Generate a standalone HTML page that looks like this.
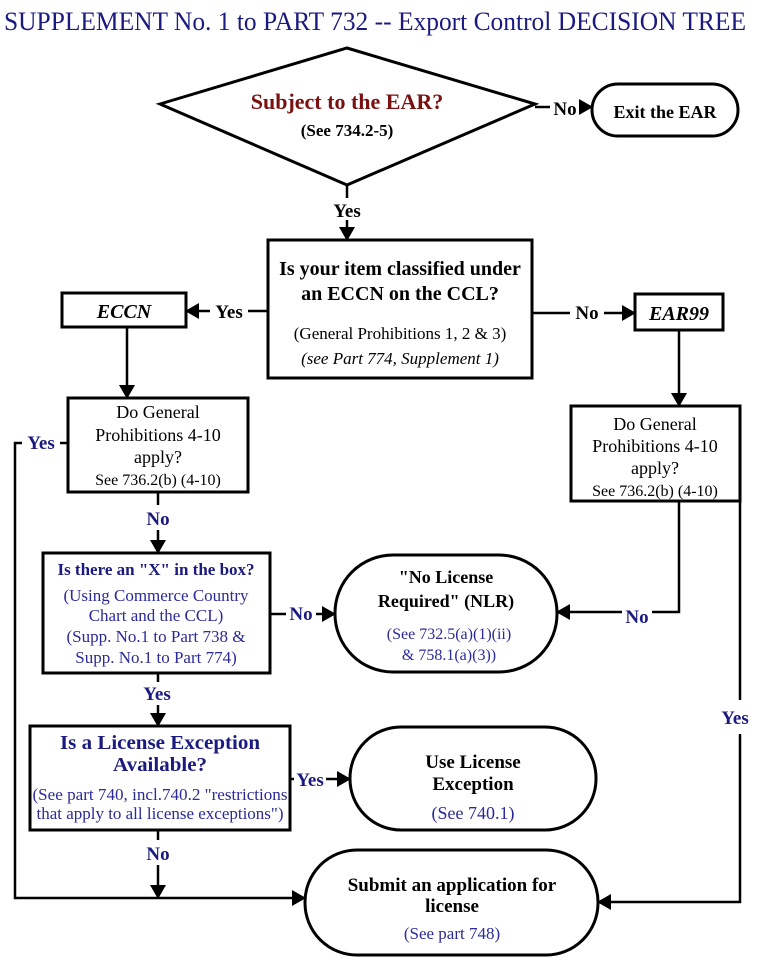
<!DOCTYPE html>
<html><head><meta charset="utf-8"><style>
html,body{margin:0;padding:0;background:#fff;}
svg{display:block;font-family:"Liberation Serif",serif;}
.b{font-weight:bold;}
.nv{fill:#1a1a80;}
.bl{fill:#2a2a9a;}
</style></head><body>
<svg width="768" height="963" viewBox="0 0 768 963" xmlns="http://www.w3.org/2000/svg">
<defs><marker id="ah" markerWidth="14" markerHeight="16" refX="13" refY="8" orient="auto" markerUnits="userSpaceOnUse"><path d="M0,0 L14,8 L0,16z" fill="#000"/></marker></defs>
<text x="4" y="30" font-size="26" fill="#1a1a80" textLength="742" lengthAdjust="spacingAndGlyphs">SUPPLEMENT No. 1 to PART 732 -- Export  Control  DECISION TREE</text>
<g stroke="#000" stroke-width="3" fill="none">
<polygon points="160,104 347,48 535,104 347,185" fill="#fff"/>
<rect x="592" y="84" width="146" height="52" rx="26"/>
<rect x="268" y="240" width="264" height="138"/>
<rect x="62" y="293" width="124" height="34"/>
<rect x="635" y="294" width="88" height="36"/>
<rect x="68" y="398" width="180" height="94"/>
<rect x="571" y="406" width="169" height="95"/>
<rect x="43" y="553" width="227" height="120"/>
<rect x="335" y="555" width="222" height="117" rx="58"/>
<rect x="30" y="726" width="260" height="104"/>
<rect x="350" y="727" width="246" height="103" rx="51"/>
<rect x="305" y="850" width="293" height="105" rx="52"/>
</g>
<g stroke="#000" stroke-width="2.5" fill="none">
<line x1="535" y1="107" x2="550" y2="107"/><line x1="580" y1="107" x2="592" y2="107" marker-end="url(#ah)"/>
<line x1="347" y1="185" x2="347" y2="198"/><line x1="347" y1="220" x2="347" y2="240" marker-end="url(#ah)"/>
<line x1="268" y1="311" x2="248" y2="311"/><line x1="210" y1="311" x2="186" y2="311" marker-end="url(#ah)"/>
<line x1="532" y1="313" x2="570" y2="313"/><line x1="604" y1="313" x2="635" y2="313" marker-end="url(#ah)"/>
<line x1="127" y1="327" x2="127" y2="398" marker-end="url(#ah)"/>
<line x1="679" y1="330" x2="679" y2="406" marker-end="url(#ah)"/>
<line x1="68" y1="443" x2="60" y2="443"/><polyline points="22,443 15,443 15,898 305,898" marker-end="url(#ah)"/>
<line x1="158" y1="492" x2="158" y2="505"/><line x1="158" y1="530" x2="158" y2="553" marker-end="url(#ah)"/>
<line x1="270" y1="614" x2="286" y2="614"/><line x1="316" y1="614" x2="335" y2="614" marker-end="url(#ah)"/>
<polyline points="679,501 679,612 652,612"/><line x1="622" y1="612" x2="557" y2="612" marker-end="url(#ah)"/>
<polyline points="740,501 740,700"/><polyline points="740,734 740,902 598,902" marker-end="url(#ah)"/>
<line x1="158" y1="673" x2="158" y2="682"/><line x1="158" y1="705" x2="158" y2="726" marker-end="url(#ah)"/>
<line x1="290" y1="779" x2="294" y2="779"/><line x1="326" y1="779" x2="350" y2="779" marker-end="url(#ah)"/>
<line x1="158" y1="830" x2="158" y2="840"/><line x1="158" y1="865" x2="158" y2="898" marker-end="url(#ah)"/>
</g>
<g text-anchor="middle">
<text x="347" y="109" font-size="22" class="b" fill="#7a1010">Subject to the EAR?</text>
<text x="347" y="136" font-size="17" class="b">(See 734.2-5)</text>
<text x="665" y="118" font-size="18" class="b">Exit the EAR</text>
<text x="565" y="115" font-size="19" class="b">No</text>
<text x="347" y="217" font-size="19" class="b">Yes</text>
<text x="400" y="275" font-size="20" class="b">Is your item classified under</text>
<text x="400" y="300" font-size="20" class="b">an ECCN on the CCL?</text>
<text x="400" y="339" font-size="17">(General Prohibitions 1, 2 &amp; 3)</text>
<text x="400" y="364" font-size="17" font-style="italic">(see Part 774, Supplement 1)</text>
<text x="124" y="318" font-size="20" class="b" font-style="italic">ECCN</text>
<text x="679" y="320" font-size="20" class="b" font-style="italic">EAR99</text>
<text x="229" y="318" font-size="19" class="b">Yes</text>
<text x="587" y="319" font-size="19" class="b">No</text>
<text x="158" y="418" font-size="18">Do General</text>
<text x="158" y="441" font-size="18">Prohibitions 4-10</text>
<text x="158" y="463" font-size="18">apply?</text>
<text x="158" y="485" font-size="16">See 736.2(b) (4-10)</text>
<text x="655" y="430" font-size="18">Do General</text>
<text x="655" y="452" font-size="18">Prohibitions 4-10</text>
<text x="655" y="474" font-size="18">apply?</text>
<text x="655" y="496" font-size="16">See 736.2(b) (4-10)</text>
<text x="41" y="449" font-size="19" class="b nv">Yes</text>
<text x="158" y="525" font-size="19" class="b nv">No</text>
<text x="156" y="575" font-size="17" class="b nv">Is there an "X" in the box?</text>
<text x="156" y="601" font-size="17" class="bl">(Using Commerce Country</text>
<text x="156" y="621" font-size="17" class="bl">Chart and the CCL)</text>
<text x="156" y="642" font-size="17" class="bl">(Supp. No.1 to Part 738 &amp;</text>
<text x="156" y="663" font-size="17" class="bl">Supp. No.1 to Part 774)</text>
<text x="301" y="620" font-size="19" class="b nv">No</text>
<text x="446" y="583" font-size="18" class="b">"No License</text>
<text x="446" y="607" font-size="18" class="b">Required" (NLR)</text>
<text x="449" y="639" font-size="16" class="bl">(See  732.5(a)(1)(ii)</text>
<text x="449" y="660" font-size="16" class="bl">&amp; 758.1(a)(3))</text>
<text x="637" y="623" font-size="19" class="b nv">No</text>
<text x="735" y="724" font-size="19" class="b nv">Yes</text>
<text x="157" y="700" font-size="19" class="b nv">Yes</text>
<text x="160" y="749" font-size="20" class="b nv" textLength="200" lengthAdjust="spacingAndGlyphs">Is a License Exception</text>
<text x="160" y="771" font-size="20" class="b nv" textLength="94" lengthAdjust="spacingAndGlyphs">Available?</text>
<text x="160" y="800" font-size="17" class="bl" textLength="255" lengthAdjust="spacingAndGlyphs">(See part 740, incl.740.2 "restrictions</text>
<text x="160" y="819" font-size="17" class="bl" textLength="247" lengthAdjust="spacingAndGlyphs">that apply to all license exceptions")</text>
<text x="310" y="786" font-size="19" class="b nv">Yes</text>
<text x="473" y="768" font-size="19" class="b">Use License</text>
<text x="473" y="790" font-size="19" class="b">Exception</text>
<text x="473" y="819" font-size="18" class="bl">(See 740.1)</text>
<text x="158" y="860" font-size="19" class="b nv">No</text>
<text x="452" y="891" font-size="19" class="b">Submit an application for</text>
<text x="452" y="912" font-size="19" class="b">license</text>
<text x="452" y="939" font-size="17" class="bl">(See part 748)</text>
</g>
</svg>
</body></html>
